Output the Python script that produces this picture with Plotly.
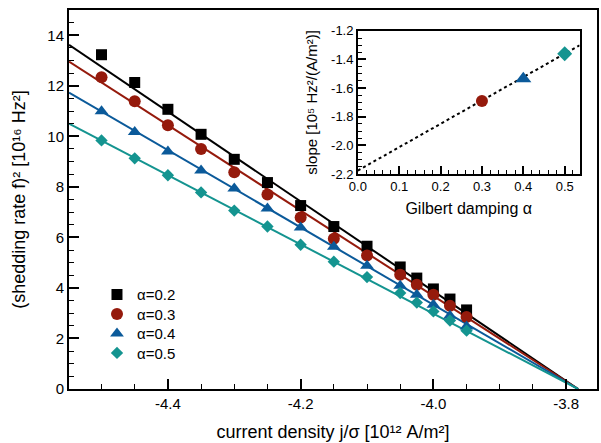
import plotly.graph_objects as go

# current density j/sigma [1e12 A/m^2]
current = [-4.5, -4.45, -4.4, -4.35, -4.3, -4.25, -4.2, -4.15, -4.1,
           -4.05, -4.025, -4.0, -3.975, -3.95]

# (shedding rate f)^2 [1e16 Hz^2]
f2_a02 = [13.23, 12.13, 11.07, 10.08, 9.09, 8.17, 7.26, 6.43, 5.65,
          4.83, 4.39, 3.96, 3.56, 3.13]
f2_a03 = [12.34, 11.39, 10.44, 9.50, 8.58, 7.70, 6.79, 5.95, 5.28,
          4.52, 4.13, 3.73, 3.29, 2.85]
f2_a04 = [10.99, 10.17, 9.40, 8.65, 7.94, 7.14, 6.39, 5.63, 4.88,
          4.09, 3.73, 3.33, 2.90, 2.47]
f2_a05 = [9.84, 9.13, 8.46, 7.78, 7.06, 6.43, 5.71, 5.04, 4.43,
          3.80, 3.42, 3.07, 2.71, 2.31]

labels = ["α=0.2", "α=0.3", "α=0.4", "α=0.5"]

# linear fits: common zero crossing and slopes
fit_x0 = -3.782
fit_slope = [-17.76, -16.9, -15.3, -13.69]

# inset: slope vs damping
alpha_inset = [0.3, 0.4, 0.5]
slope_inset = [-1.69, -1.535, -1.36]
inset_fit_intercept = -2.175
inset_fit_slope = 1.63

# tick labels (plain hyphen minus like the original)
x_tickvals = [-4.4, -4.2, -4.0, -3.8]
x_ticktext = ["-4.4", "-4.2", "-4.0", "-3.8"]
y2_tickvals = [-2.2, -2.0, -1.8, -1.6, -1.4, -1.2]
y2_ticktext = ["-2.2", "-2.0", "-1.8", "-1.6", "-1.4", "-1.2"]

colors = ["#000000", "#951a0c", "#0b5a9a", "#149490"]
symbols = ["square", "circle", "triangle-up", "diamond"]
sizes = [11, 12, 12, 9.5]
inset_sizes = [12, 14, 11.5]

X_RANGE = [-4.549, -3.7535]
INSET_X = [0.0, 0.536]

FONT = "Liberation Sans, Arial, Helvetica, sans-serif"

fig = go.Figure()

series = [f2_a02, f2_a03, f2_a04, f2_a05]
for i, ys in enumerate(series):
    xs_fit = [X_RANGE[0], fit_x0]
    ys_fit = [fit_slope[i] * (x - fit_x0) for x in xs_fit]
    fig.add_trace(go.Scatter(
        x=xs_fit, y=ys_fit, mode="lines", showlegend=False,
        line=dict(color=colors[i], width=2), hoverinfo="skip",
    ))

legend_ids = ["legend", "legend2", "legend3", "legend4"]
for i, ys in enumerate(series):
    fig.add_trace(go.Scatter(
        x=current, y=ys, mode="markers", name=labels[i], legend=legend_ids[i],
        marker=dict(symbol=symbols[i], size=sizes[i], color=colors[i],
                    line=dict(width=0)),
    ))

# inset
xs_in = [INSET_X[0], INSET_X[1]]
fig.add_trace(go.Scatter(
    x=xs_in, y=[inset_fit_intercept + inset_fit_slope * x for x in xs_in],
    mode="lines", xaxis="x2", yaxis="y2", showlegend=False,
    line=dict(color="black", width=2, dash="dot"), hoverinfo="skip",
))
for j, a in enumerate(alpha_inset):
    fig.add_trace(go.Scatter(
        x=[a], y=[slope_inset[j]], mode="markers", xaxis="x2", yaxis="y2",
        showlegend=False,
        marker=dict(symbol=symbols[j + 1], size=inset_sizes[j],
                    color=colors[j + 1], line=dict(width=0)),
    ))

axis_common = dict(
    showline=True, linecolor="black", mirror=True, ticks="inside",
    showgrid=False, zeroline=False, tickcolor="black",
)

# one small legend per entry so the rows sit as tight as in the original
legends = {}
for i, lid in enumerate(legend_ids):
    legends[lid] = dict(
        x=0.053, y=0.249 - i * 0.0515, xanchor="left", yanchor="middle",
        bgcolor="rgba(0,0,0,0)", font=dict(size=15),
        itemsizing="trace",
    )

fig.update_layout(
    width=601, height=443,
    margin=dict(l=69, r=2, t=10, b=54),
    plot_bgcolor="white", paper_bgcolor="white",
    font=dict(family=FONT, color="black", size=15),
    xaxis=dict(
        **axis_common, linewidth=2, range=X_RANGE,
        tickvals=x_tickvals, ticktext=x_ticktext, ticklen=10, tickwidth=2,
        minor=dict(ticks="inside", dtick=0.05, tick0=-4.4, ticklen=5,
                   tickcolor="black", tickwidth=1),
        title=dict(text="current density j/σ [10¹² A/m²]", font=dict(size=18), standoff=14),
        tickfont=dict(size=15),
    ),
    yaxis=dict(
        **axis_common, linewidth=2, range=[0, 15],
        dtick=2, ticklen=10, tickwidth=2,
        minor=dict(ticks="inside", dtick=0.5, ticklen=5, tickcolor="black", tickwidth=1),
        title=dict(text="(shedding rate f)² [10¹⁶ Hz²]", font=dict(size=18), standoff=17),
        tickfont=dict(size=15),
    ),
    xaxis2=dict(
        **axis_common, linewidth=1.5, range=INSET_X, anchor="y2",
        domain=[0.547, 0.967],
        dtick=0.1, tickformat=".1f", ticklen=8, tickwidth=1.5,
        minor=dict(ticks="inside", dtick=0.02, ticklen=4, tickcolor="black", tickwidth=1),
        title=dict(text="Gilbert damping α", font=dict(size=16), standoff=9),
        tickfont=dict(size=13),
    ),
    yaxis2=dict(
        **axis_common, linewidth=1.5, range=[-2.2, -1.2], anchor="x2",
        domain=[0.567, 0.945],
        tickvals=y2_tickvals, ticktext=y2_ticktext, ticklen=8, tickwidth=1.5,
        minor=dict(ticks="inside", dtick=0.05, tick0=-2.2, ticklen=4,
                   tickcolor="black", tickwidth=1),
        title=dict(text="slope [10⁵ Hz²/(A/m²)]", font=dict(size=15), standoff=10),
        tickfont=dict(size=13),
    ),
    **legends,
)

fig.write_html("out.html", config={"displayModeBar": False},
               post_script="document.body.style.margin='0';")
